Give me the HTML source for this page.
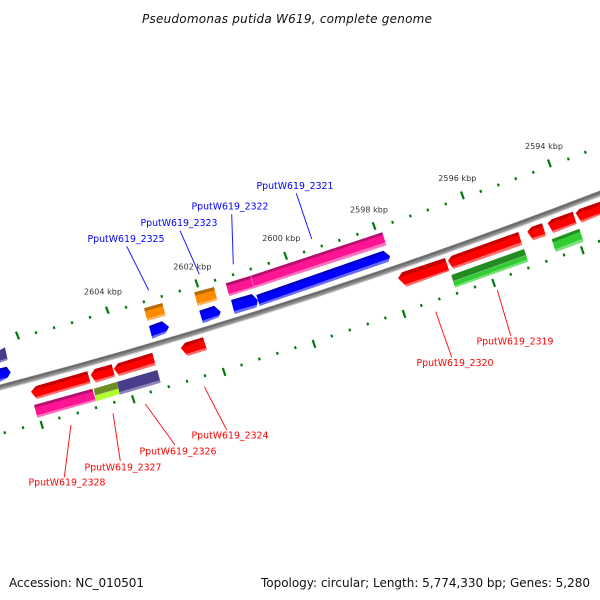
<!DOCTYPE html>
<html><head><meta charset="utf-8"><style>
html,body{margin:0;padding:0;background:#fff}
svg{display:block}
.t{font-family:"DejaVu Sans","Liberation Sans",sans-serif}
.b{fill:#00f;font-size:10px}.r{fill:#f00;font-size:10px}
.k{fill:#333;font-size:8px}.f{fill:#111;font-size:12px}
</style></head><body>
<svg width="600" height="600" viewBox="0 0 600 600" xmlns="http://www.w3.org/2000/svg">
<defs>
<linearGradient id="red"><stop offset=".26" stop-color="#c40000"/><stop offset=".26" stop-color="#f00"/><stop offset=".82" stop-color="#f00"/><stop offset=".82" stop-color="#ff6a6a"/></linearGradient>
<linearGradient id="pink"><stop offset=".22" stop-color="#b3106e"/><stop offset=".22" stop-color="#ff1493"/><stop offset=".82" stop-color="#ff1493"/><stop offset=".82" stop-color="#ff72bd"/></linearGradient>
<linearGradient id="blue"><stop offset=".22" stop-color="#0000c4"/><stop offset=".22" stop-color="#00f"/><stop offset=".8" stop-color="#00f"/><stop offset=".8" stop-color="#6a6aff"/></linearGradient>
<linearGradient id="org"><stop offset=".24" stop-color="#b86a08"/><stop offset=".24" stop-color="#ff8c00"/><stop offset=".82" stop-color="#ff8c00"/><stop offset=".82" stop-color="#ffb35c"/></linearGradient>
<linearGradient id="pur"><stop offset=".8" stop-color="#483d8b"/><stop offset=".8" stop-color="#8d86ba"/></linearGradient>
<linearGradient id="lime"><stop offset=".5" stop-color="#6b8e23"/><stop offset=".56" stop-color="#c8e070"/><stop offset=".6" stop-color="#adff2f"/></linearGradient>
<linearGradient id="dg"><stop offset=".46" stop-color="#228b22"/><stop offset=".5" stop-color="#8fc48f"/><stop offset=".55" stop-color="#32cd32"/><stop offset=".84" stop-color="#32cd32"/><stop offset=".84" stop-color="#78e078"/></linearGradient>
<linearGradient id="lg"><stop offset=".24" stop-color="#239023"/><stop offset=".24" stop-color="#32cd32"/><stop offset=".8" stop-color="#32cd32"/><stop offset=".8" stop-color="#7ce07c"/></linearGradient>
<linearGradient id="a1" href="#red" gradientUnits="userSpaceOnUse" x1="36" y1="386" x2="39.5" y2="398.2"/>
<linearGradient id="a2" href="#pink" gradientUnits="userSpaceOnUse" x1="34" y1="405" x2="37.5" y2="417.6"/>
<linearGradient id="a3" href="#lime" gradientUnits="userSpaceOnUse" x1="93.7" y1="388.7" x2="97.35" y2="401"/>
<linearGradient id="a4" href="#pur" gradientUnits="userSpaceOnUse" x1="117.3" y1="381.7" x2="121" y2="394.3"/>
<linearGradient id="a5" href="#red" gradientUnits="userSpaceOnUse" x1="94.7" y1="369" x2="98.3" y2="381.9"/>
<linearGradient id="a6" href="#red" gradientUnits="userSpaceOnUse" x1="118" y1="363.3" x2="121.7" y2="375.25"/>
<linearGradient id="a7" href="#red" gradientUnits="userSpaceOnUse" x1="185" y1="342.7" x2="188.9" y2="355.6"/>
<linearGradient id="b1" href="#org" gradientUnits="userSpaceOnUse" x1="144" y1="308.3" x2="147.65" y2="320.9"/>
<linearGradient id="b2" href="#blue" gradientUnits="userSpaceOnUse" x1="149" y1="326" x2="153.4" y2="338.3"/>
<linearGradient id="b3" href="#org" gradientUnits="userSpaceOnUse" x1="194.3" y1="292.3" x2="198" y2="305.9"/>
<linearGradient id="b4" href="#blue" gradientUnits="userSpaceOnUse" x1="199.3" y1="310.7" x2="203.5" y2="323.1"/>
<linearGradient id="b5" href="#pink" gradientUnits="userSpaceOnUse" x1="225.7" y1="283.3" x2="229.6" y2="296.2"/>
<linearGradient id="b8" href="#pink" gradientUnits="userSpaceOnUse" x1="250.7" y1="275.7" x2="254.8" y2="288.05"/>
<linearGradient id="b6" href="#blue" gradientUnits="userSpaceOnUse" x1="231" y1="300" x2="235" y2="313.9"/>
<linearGradient id="b7" href="#blue" gradientUnits="userSpaceOnUse" x1="256.3" y1="295" x2="260.1" y2="305.9"/>
<linearGradient id="c1" href="#red" gradientUnits="userSpaceOnUse" x1="402" y1="272.3" x2="406.8" y2="286.7"/>
<linearGradient id="c2" href="#red" gradientUnits="userSpaceOnUse" x1="451.7" y1="255.7" x2="456.1" y2="268"/>
<linearGradient id="c3" href="#dg" gradientUnits="userSpaceOnUse" x1="451.3" y1="275" x2="455.75" y2="287.4"/>
<linearGradient id="c4" href="#red" gradientUnits="userSpaceOnUse" x1="531.7" y1="226.7" x2="535.9" y2="239.4"/>
<linearGradient id="c5" href="#red" gradientUnits="userSpaceOnUse" x1="551.7" y1="219.3" x2="556.3" y2="232"/>
<linearGradient id="c6" href="#red" gradientUnits="userSpaceOnUse" x1="579.3" y1="209" x2="584" y2="221.8"/>
<linearGradient id="c7" href="#lg" gradientUnits="userSpaceOnUse" x1="551.7" y1="239.3" x2="556.5" y2="251.7"/>
<linearGradient id="d1" href="#pur" gradientUnits="userSpaceOnUse" x1="0" y1="350" x2="3.7" y2="362"/>
<linearGradient id="d2" href="#blue" gradientUnits="userSpaceOnUse" x1="0" y1="368.3" x2="3.8" y2="381"/>
</defs>

<!-- backbone -->
<path d="M-2 388Q300 309.5 602 192.8" fill="none" stroke="#c0c0c0" stroke-width="6"/>
<path d="M-2 387.5Q300 309 602 192.3" fill="none" stroke="#8c8c8c" stroke-width="4.4"/>
<path d="M-2 386.6Q300 308.1 602 191.4" fill="none" stroke="#6c6c6c" stroke-width="2.2"/>

<!-- upper ticks -->
<g fill="none" stroke="#007a10" stroke-width="2.2">
<path d="M16 331.7l3 7.6M106 306.7l2.7 7M195.5 279.5l2.6 7.8M284.2 252l2.8 7.6M372.7 222.2l2.8 7.6M461 191.5l2.8 7.8M548 159.5l2.8 7.8"/>
<path stroke-width="2.2" d="M35.5 331.4l.9 2.6M53.6 326.4l.9 2.6M71.6 321.4l.9 2.6M89.6 316l.9 2.6M125.6 306l.9 2.6M143.4 300.5l.9 2.6M161.3 295.1l.9 2.6M179.3 289.7l.9 2.6M214.6 279l.9 2.6M232.6 273.4l.9 2.6M250.3 267.7l.9 2.6M268.3 262l.9 2.6M303.6 250.7l.9 2.6M321.3 244.7l.9 2.6M338.9 239l.9 2.6M356.9 233l.9 2.6M392.1 221l.9 2.6M409.9 214.7l.9 2.6M427.3 208.7l.9 2.6M445.3 202.7l.9 2.6M480.3 190l.9 2.6M497.9 183.7l.9 2.6M515.3 177.4l.9 2.6M532.9 171l.9 2.6M567.9 157.7l.9 2.6M584.9 151l.9 2.6"/>
</g>
<!-- lower ticks -->
<g fill="none" stroke="#007a10" stroke-width="2.2">
<path d="M40.6 421l2.4 7.8M132 395.3l2.6 7.8M222.8 368l2.6 7.8M312.7 340l2.6 7.8M402.7 310l2.6 7.8M492.3 279l2.7 7.8M581 246.4l2.7 7.8"/>
<path d="M4.3 431.4l.9 2.6M22.6 426.4l.9 2.6M58.9 416.7l.9 2.6M77.3 411.7l.9 2.6M95.6 406.4l.9 2.6M113.9 401l.9 2.6M150.3 390.7l.9 2.6M168.3 385.4l.9 2.6M186.6 380l.9 2.6M204.6 374.4l.9 2.6M241.1 363.7l.9 2.6M258.9 357.7l.9 2.6M276.9 352l.9 2.6M294.9 346.4l.9 2.6M331.3 334.7l.9 2.6M349.3 328.7l.9 2.6M367.3 322.7l.9 2.6M384.9 316.7l.9 2.6M420.9 304.2l.9 2.6M438.9 297.7l.9 2.6M456.6 292l.9 2.6M474.6 285.7l.9 2.6M510.3 273l.9 2.6M527.9 266.7l.9 2.6M545.9 260l.9 2.6M563.6 253.7l.9 2.6M598.6 240l.9 2.6"/>
</g>

<!-- lower strand genes -->
<polygon fill="url(#a1)" points="31,391.7 36,386 87.3,371.3 90.7,383.3 36.7,399"/>
<polygon fill="url(#a2)" points="34,405 92.3,388.7 96,401 37.3,417.7"/>
<polygon fill="url(#a3)" points="93.7,388.7 117.3,381.7 119.7,394 96.3,401.3"/>
<polygon fill="url(#a4)" points="117.3,381.7 157.3,370 160.7,382.7 119.7,394.7"/>
<polygon fill="url(#a5)" points="90.7,375 94.7,369 111.7,364.3 115,376.7 96,382.7"/>
<polygon fill="url(#a6)" points="114,368.7 118,363.3 152.3,352.7 155.7,365.3 119.3,376"/>
<polygon fill="url(#a7)" points="180.7,348.3 185,342.7 203,337.3 207,350 187.7,356"/>
<polygon fill="url(#c1)" points="398,278.3 402,272.3 445,258 449.3,271 406.7,286.7"/>
<polygon fill="url(#c2)" points="448,260.7 451.7,255.7 518.3,232 522.3,245 453.3,269"/>
<polygon fill="url(#c3)" points="451.3,275 524,249 528.3,261.7 455,287.7"/>
<polygon fill="url(#c4)" points="527.3,231.7 531.7,226.7 542,223.3 546,236 533.3,240.3"/>
<polygon fill="url(#c5)" points="547.7,223.3 551.7,219.3 572.7,211.7 576.7,224 553.3,233"/>
<polygon fill="url(#c6)" points="575.7,213.3 579.3,209 600,201.7 600,215 581.7,222.7"/>
<polygon fill="url(#c7)" points="551.7,239.3 579.3,228.7 583.7,241.7 555.7,252"/>

<!-- upper strand genes -->
<polygon fill="url(#d1)" points="0,350 5,347.3 7.7,360 0,362.7"/>
<polygon fill="url(#d2)" points="0,368.3 6.7,366.7 10.7,372.3 7.3,378.3 0,381.7"/>
<polygon fill="url(#b1)" points="144,308.3 162.3,303 165.7,315.7 147.3,321"/>
<polygon fill="url(#b2)" points="149,326 162,321.3 169,326.7 165.7,333.3 152.3,338.7"/>
<polygon fill="url(#b3)" points="194.3,292.3 214,287 217.3,300.3 197.7,306"/>
<polygon fill="url(#b4)" points="199.3,310.7 214,305.7 220.7,311.7 218.7,317.3 203,323.3"/>
<polygon fill="url(#b5)" points="225.7,283.3 250.7,275.7 254,288.3 229.3,296.3"/>
<polygon fill="url(#b8)" points="250.7,275.7 382.3,232.3 386.3,245.3 254,288.3"/>
<path d="M250.7 275.7L254 288.3" stroke="#ff7cc0" stroke-width=".7"/>
<polygon fill="url(#b6)" points="231,300 251.7,294 257.7,300 256.7,307.3 234.7,314"/>
<polygon fill="url(#b7)" points="256.3,295 383.3,250.7 390,256 388.7,261.7 259.7,306"/>

<!-- leaders -->
<g fill="none" stroke="#1a1aff" stroke-width="1">
<path d="M126.7 246.3L148.7 290.3M180 230.7L199.3 274.3M231.7 214.3L233.3 264.3M296.3 193.3L311.7 239"/>
</g>
<g fill="none" stroke="#ff1a1a" stroke-width="1">
<path d="M71 425L64.3 477.3M113 413.3L120.3 461M145.3 404L175 445M204.3 386.7L226.7 430M435.7 311.7L451.7 357.3M497.3 290L510.7 335.7"/>
</g>

<!-- labels -->
<g class="t">
<text class="b" x="87.5" y="242" textLength="77" lengthAdjust="spacingAndGlyphs">PputW619_2325</text>
<text class="b" x="140.5" y="226" textLength="77" lengthAdjust="spacingAndGlyphs">PputW619_2323</text>
<text class="b" x="191.5" y="209.7" textLength="77" lengthAdjust="spacingAndGlyphs">PputW619_2322</text>
<text class="b" x="256.5" y="189" textLength="77" lengthAdjust="spacingAndGlyphs">PputW619_2321</text>
<text class="r" x="28.5" y="485.7" textLength="77" lengthAdjust="spacingAndGlyphs">PputW619_2328</text>
<text class="r" x="84.5" y="470.7" textLength="77" lengthAdjust="spacingAndGlyphs">PputW619_2327</text>
<text class="r" x="139.5" y="454.7" textLength="77" lengthAdjust="spacingAndGlyphs">PputW619_2326</text>
<text class="r" x="191.5" y="438.7" textLength="77" lengthAdjust="spacingAndGlyphs">PputW619_2324</text>
<text class="r" x="416.5" y="366" textLength="77" lengthAdjust="spacingAndGlyphs">PputW619_2320</text>
<text class="r" x="476.5" y="344.3" textLength="77" lengthAdjust="spacingAndGlyphs">PputW619_2319</text>
<text class="k" x="84" y="294.5" textLength="38">2604 kbp</text>
<text class="k" x="173.3" y="269.5" textLength="38">2602 kbp</text>
<text class="k" x="262.3" y="241" textLength="38">2600 kbp</text>
<text class="k" x="350" y="212.5" textLength="38">2598 kbp</text>
<text class="k" x="438.3" y="181" textLength="38">2596 kbp</text>
<text class="k" x="525" y="149" textLength="38">2594 kbp</text>
<text class="f" x="142" y="23" font-style="italic" textLength="290">Pseudomonas putida W619, complete genome</text>
<text class="f" x="9" y="587" textLength="135">Accession: NC_010501</text>
<text class="f" x="261" y="587" textLength="329">Topology: circular; Length: 5,774,330 bp; Genes: 5,280</text>
</g>
</svg>
</body></html>
